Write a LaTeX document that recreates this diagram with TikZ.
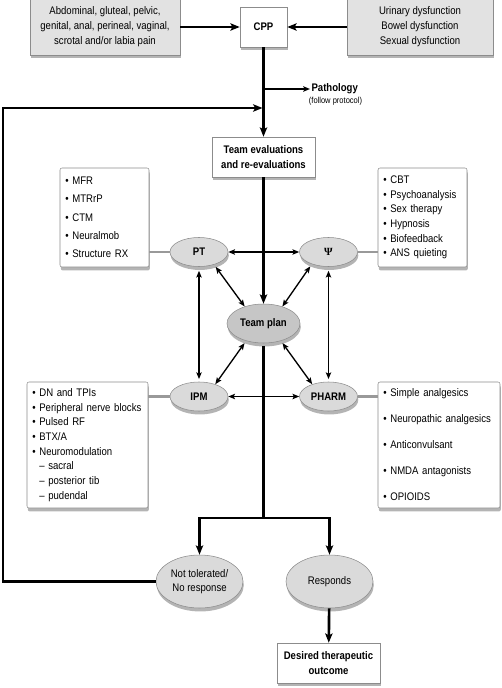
\documentclass[tikz,border=0pt]{standalone}
\usepackage{fontspec}
\setmainfont{Liberation Sans}[FakeStretch=0.87]
\newfontfamily\psifont{Liberation Serif}
\usepackage{tikz}
\usetikzlibrary{arrows.meta,shapes.geometric,shadows,calc}
\definecolor{cadre}{RGB}{140,140,140}
\definecolor{grisclair}{RGB}{226,226,226}
\definecolor{grisovale}{RGB}{218,218,218}
\definecolor{grisplan}{RGB}{198,198,198}
\definecolor{ombre}{RGB}{180,180,180}

\tikzset{
  ombrage/.style={drop shadow={shadow xshift=0.6pt, shadow yshift=-2.6pt, fill=ombre, opacity=1}},
  greybox/.style={draw=cadre, fill=grisclair, ombrage, align=center, inner sep=2pt,
    font=\fontsize{8.25}{11.25}\selectfont},
  whitebox/.style={draw=cadre, fill=white, ombrage, align=center, inner sep=2pt,
    font=\bfseries\fontsize{8.25}{11.25}\selectfont},
  listbox/.style={draw=cadre, fill=white, rounded corners=1.5pt, ombrage, align=left,
    inner xsep=4pt, inner ysep=2pt},
  oval/.style={ellipse, draw=cadre, fill=grisovale, ombrage, inner sep=0pt, align=center},
  petitoval/.style={oval, minimum width=43.5pt, minimum height=21.75pt,
    font=\bfseries\fontsize{8.25}{10}\selectfont},
  grandoval/.style={oval, minimum width=65.25pt, minimum height=39.75pt,
    font=\fontsize{8.25}{10.5}\selectfont},
  mainline/.style={line width=2pt},
  mainarrow/.style={line width=2pt, -{Stealth[length=7pt, width=5.5pt, inset=1.5pt]}},
  thinarrow/.style={line width=1pt, -{Stealth[length=5pt, width=4pt, inset=1pt]}},
  bothways/.style={line width=1pt, {Stealth[length=5pt, width=4pt, inset=1pt]}-{Stealth[length=5pt, width=4pt, inset=1pt]}},
  link/.style={line width=2.2pt, draw=black!40},
}

\begin{document}
\begin{tikzpicture}[x=0.75pt, y=-0.75pt]
\useasboundingbox (0,0) rectangle (501,688);

% Entrees
\node[greybox, minimum width=112.5pt, minimum height=42pt] (symptomes) at (105,27)
  {Abdominal, gluteal, pelvic,\\genital, anal, perineal, vaginal,\\scrotal and/or labia pain};
\node[greybox, minimum width=109.5pt, minimum height=42pt] (dysfonctions) at (420,27)
  {Urinary dysfunction\\Bowel dysfunction\\Sexual dysfunction};
\node[whitebox, minimum width=35.25pt, minimum height=30pt] (cpp) at (263.5,27) {CPP};
\draw[mainarrow] (symptomes) -- (cpp);
\draw[mainarrow] (dysfonctions) -- (cpp);

% Evaluations
\node[whitebox, minimum width=77.25pt, minimum height=30pt] (evaluations) at (263.5,157)
  {Team evaluations\\and re-evaluations};
\draw[mainarrow] (cpp) -- (evaluations);

\coordinate (fourche) at (263.5,89);
\node[anchor=west, inner sep=1pt, font=\bfseries\fontsize{8.25}{10}\selectfont] (pathologie) at (310,89) {Pathology};
\node[inner sep=0pt, font=\fontsize{6.5}{8}\selectfont] (protocole) at (335.5,101) {(follow protocol)};
\draw[thinarrow] (fourche) -- (pathologie);

% Equipe
\node[petitoval] (pt) at (199,252) {PT};
\node[petitoval] (psi) at (328.5,252) {\psifont Ψ};
\node[petitoval] (ipm) at (199,396.5) {IPM};
\node[petitoval] (pharm) at (328.5,396.5) {PHARM};
\node[oval, fill=grisplan, minimum width=54.75pt, minimum height=29.25pt,
  font=\bfseries\fontsize{8.25}{10}\selectfont] (equipe) at (263.5,323.5) {Team plan};

% Listes
\node[listbox, minimum width=66.75pt, minimum height=74.25pt, text width=58.75pt,
  font=\fontsize{8.25}{13.7}\selectfont] (ptliste) at (104.5,217.5)
  {•~MFR\\•~MTRrP\\•~CTM\\•~Neuralmob\\•~Structure RX};
\node[listbox, minimum width=66.75pt, minimum height=74.25pt, text width=58.75pt,
  font=\fontsize{8.25}{11}\selectfont] (psiliste) at (422.5,217.5)
  {•~CBT\\•~Psychoanalysis\\•~Sex therapy\\•~Hypnosis\\•~Biofeedback\\•~ANS quieting};
\node[listbox, minimum width=90.75pt, minimum height=94.5pt, text width=82.75pt,
  font=\fontsize{8.25}{11}\selectfont] (ipmliste) at (87.5,445)
  {•~DN and TPIs\\•~Peripheral nerve blocks\\•~Pulsed RF\\•~BTX/A\\•~Neuromodulation\\
   \phantom{•}~– sacral\\\phantom{•}~– posterior tib\\\phantom{•}~– pudendal};
\node[listbox, minimum width=91.5pt, minimum height=94.5pt, text width=83.5pt,
  font=\fontsize{8.25}{19.5}\selectfont] (pharmliste) at (439,445)
  {•~Simple analgesics\\•~Neuropathic analgesics\\•~Anticonvulsant\\•~NMDA antagonists\\•~OPIOIDS};

\draw[link] (pt.west) -- (pt.west -| ptliste.east);
\draw[link] (psi.east) -- (psi.east -| psiliste.west);
\draw[link] (ipm.west) -- (ipm.west -| ipmliste.east);
\draw[link] (pharm.east) -- (pharm.east -| pharmliste.west);

% Liens de l'equipe
\draw[bothways] (pt) -- (psi);
\draw[bothways] (ipm) -- (pharm);
\draw[bothways, shorten <=3pt, shorten >=2pt] (pt.south) -- (ipm.north);
\draw[bothways, shorten <=3pt, shorten >=2pt] (psi.south) -- (pharm.north);
\draw[bothways, shorten <=2pt] (pt.320) -- (equipe.138);
\draw[bothways, shorten <=2pt] (psi.216) -- (equipe.42);
\draw[bothways, shorten <=2pt] (equipe.225) -- (ipm.37);
\draw[bothways, shorten <=2pt] (equipe.315) -- (pharm.143);
\draw[mainarrow] (evaluations) -- (equipe);

% Resultats
\node[grandoval] (nontolere) at (199.5,581.5) {Not tolerated/\\No response};
\node[grandoval] (reponse) at (329.5,581.5) {Responds};
\node[whitebox, minimum width=77.25pt, minimum height=30pt] (resultat) at (328.5,663)
  {Desired therapeutic\\outcome};

\coordinate (partage) at (263.5,518);
\draw[mainline, shorten <=2pt] (equipe) -- (partage);
\draw[mainarrow] (partage) -| (nontolere);
\draw[mainarrow] (partage) -| (reponse);
\draw[mainarrow] (reponse) -- (resultat);

% Boucle de retour
\coordinate (coin) at (3,108);
\coordinate (retour) at (262.5,108);
\draw[mainarrow] (nontolere.west) -| (coin) -- (retour);

\end{tikzpicture}
\end{document}
